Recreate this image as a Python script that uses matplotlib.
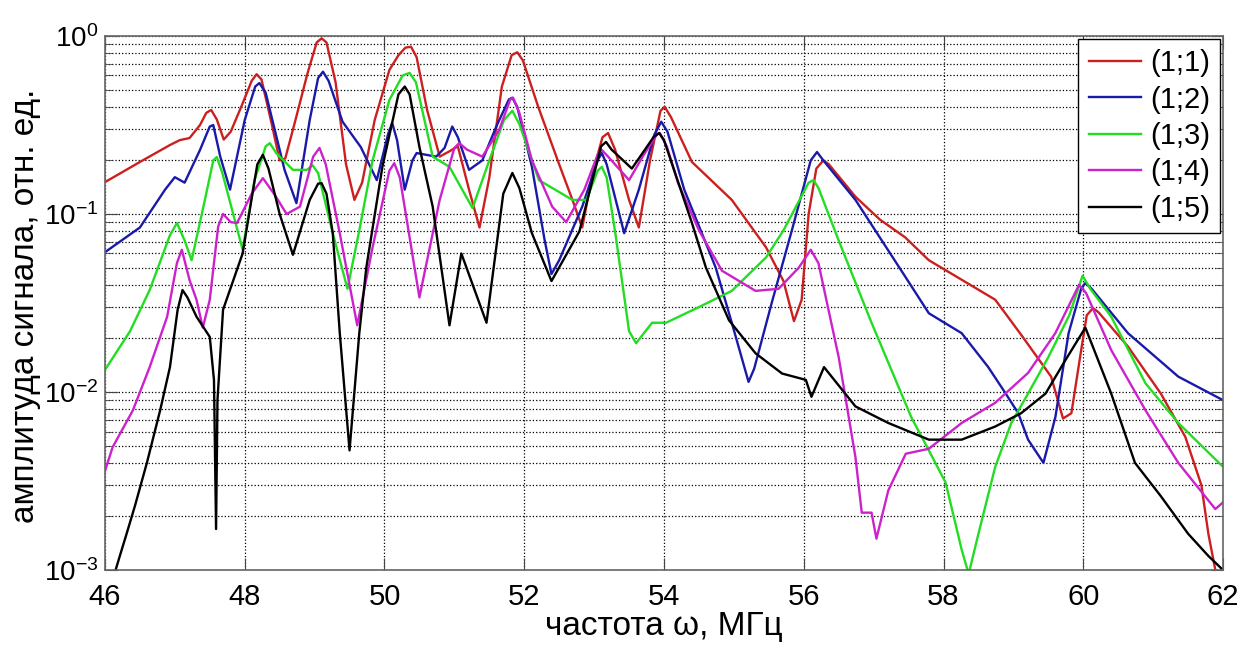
import numpy as np
import matplotlib
matplotlib.use('Agg')
import matplotlib.pyplot as plt
from matplotlib.ticker import LogLocator, LogFormatterMathtext

plt.rcParams['font.family'] = ['Liberation Sans', 'DejaVu Sans']
plt.rcParams['mathtext.fontset'] = 'custom'
plt.rcParams['mathtext.rm'] = 'Liberation Sans'
plt.rcParams['mathtext.it'] = 'Liberation Sans'

f11 = [46.00, 46.50, 46.93, 47.07, 47.21, 47.36, 47.45, 47.52, 47.60, 47.70, 47.80, 47.95, 48.10,
       48.17, 48.24, 48.39, 48.50, 48.58, 48.72, 48.90, 49.03, 49.10, 49.17, 49.30, 49.45, 49.57,
       49.68, 49.86, 50.07, 50.20, 50.30, 50.38, 50.46, 50.61, 50.79, 50.93, 51.05, 51.21, 51.36,
       51.50, 51.68, 51.82, 51.90, 51.98, 52.20, 52.50, 52.69, 52.83, 52.98, 53.12, 53.20, 53.30,
       53.50, 53.64, 53.80, 53.95, 54.01, 54.10, 54.40, 54.97, 55.46, 55.71, 55.86, 55.97, 56.07,
       56.18, 56.28, 56.36, 56.74, 57.09, 57.45, 57.79, 58.74, 59.11, 59.54, 59.71, 59.83, 59.97,
       60.05, 60.14, 60.22, 60.64, 61.11, 61.46, 61.69, 61.79, 61.89, 62.00]
a11 = [0.151, 0.196, 0.244, 0.26, 0.267, 0.316, 0.37, 0.384, 0.34, 0.262, 0.29, 0.40, 0.56,
       0.61, 0.57, 0.316, 0.20, 0.205, 0.33, 0.62, 0.92, 0.97, 0.92, 0.55, 0.19, 0.12,
       0.15, 0.337, 0.644, 0.78, 0.86, 0.87, 0.76, 0.384, 0.21, 0.225, 0.24, 0.137, 0.084,
       0.16, 0.52, 0.78, 0.81, 0.73, 0.40, 0.19, 0.12, 0.084, 0.17, 0.27, 0.285, 0.23,
       0.12, 0.084, 0.20, 0.38, 0.40, 0.35, 0.196, 0.12, 0.065, 0.042, 0.025, 0.033, 0.10,
       0.18, 0.20, 0.19, 0.125, 0.093, 0.074, 0.055, 0.033, 0.021, 0.0122, 0.0071, 0.0076, 0.0172,
       0.027, 0.0296, 0.028, 0.018, 0.0098, 0.0056, 0.003, 0.0016, 0.001, 0.0007]

f12 = [46.00, 46.50, 46.86, 47.00, 47.14, 47.36, 47.50, 47.55, 47.65, 47.79, 48.00, 48.15, 48.21,
       48.30, 48.57, 48.74, 48.93, 49.05, 49.12, 49.20, 49.40, 49.66, 49.89, 50.05, 50.11, 50.18,
       50.29, 50.40, 50.46, 50.74, 50.86, 50.97, 51.05, 51.21, 51.40, 51.60, 51.78, 51.83, 51.90,
       52.11, 52.29, 52.39, 52.50, 52.83, 53.05, 53.11, 53.18, 53.43, 53.64, 53.86, 53.96, 54.05,
       54.29, 54.74, 54.97, 55.21, 55.29, 55.54, 55.83, 56.10, 56.19, 56.28, 56.74, 57.46, 57.79,
       58.26, 58.64, 58.89, 59.07, 59.21, 59.43, 59.60, 59.79, 59.97, 60.03, 60.12, 60.64, 61.36,
       62.00]
a12 = [0.061, 0.084, 0.137, 0.161, 0.15, 0.229, 0.31, 0.316, 0.21, 0.137, 0.337, 0.52, 0.544,
       0.48, 0.177, 0.115, 0.337, 0.58, 0.63, 0.56, 0.33, 0.238, 0.155, 0.28, 0.325, 0.26,
       0.137, 0.20, 0.22, 0.21, 0.235, 0.31, 0.27, 0.177, 0.20, 0.31, 0.44, 0.45, 0.40,
       0.184, 0.072, 0.046, 0.055, 0.11, 0.20, 0.22, 0.19, 0.078, 0.137, 0.278, 0.33, 0.29,
       0.137, 0.05, 0.0245, 0.0114, 0.0135, 0.0315, 0.081, 0.20, 0.223, 0.20, 0.12, 0.044, 0.0277,
       0.0214, 0.0138, 0.0098, 0.0076, 0.0054, 0.004, 0.0072, 0.0214, 0.038, 0.041, 0.038, 0.0214, 0.0122,
       0.009]

f13 = [46.00, 46.36, 46.64, 46.93, 47.03, 47.14, 47.24, 47.43, 47.55, 47.60, 47.68, 47.97, 48.14,
       48.30, 48.36, 48.45, 48.69, 48.89, 48.97, 49.05, 49.26, 49.47, 49.64, 49.83, 50.07, 50.26,
       50.36, 50.45, 50.69, 50.93, 51.26, 51.50, 51.71, 51.83, 51.93, 52.21, 52.69, 52.89, 53.05,
       53.11, 53.18, 53.31, 53.50, 53.60, 53.83, 54.03, 54.50, 54.97, 55.46, 55.71, 56.07, 56.14,
       56.21, 56.50, 56.97, 57.54, 57.79, 58.03, 58.26, 58.36, 58.50, 58.74, 58.97, 59.21, 59.50,
       59.80, 59.99, 60.10, 60.40, 60.89, 61.36, 62.00]
a13 = [0.0133, 0.022, 0.0374, 0.076, 0.089, 0.071, 0.055, 0.12, 0.20, 0.209, 0.17, 0.063, 0.155,
       0.24, 0.25, 0.22, 0.177, 0.177, 0.188, 0.17, 0.078, 0.038, 0.081, 0.20, 0.437, 0.60,
       0.62, 0.55, 0.21, 0.184, 0.108, 0.20, 0.337, 0.38, 0.32, 0.155, 0.12, 0.12, 0.175,
       0.184, 0.16, 0.075, 0.022, 0.0188, 0.0245, 0.0245, 0.030, 0.037, 0.057, 0.081, 0.15, 0.155,
       0.14, 0.071, 0.0245, 0.0072, 0.0047, 0.0031, 0.0013, 0.00095, 0.0016, 0.0038, 0.0067, 0.0098, 0.0157,
       0.027, 0.045, 0.038, 0.0265, 0.0112, 0.0067, 0.0038]

f14 = [46.00, 46.11, 46.40, 46.64, 46.89, 47.03, 47.10, 47.21, 47.31, 47.40, 47.50, 47.62, 47.69,
       47.80, 47.89, 48.10, 48.26, 48.43, 48.60, 48.79, 48.98, 49.07, 49.16, 49.36, 49.61, 49.83,
       50.07, 50.14, 50.22, 50.50, 50.79, 51.00, 51.07, 51.18, 51.40, 51.64, 51.80, 51.84, 51.93,
       52.11, 52.40, 52.60, 52.86, 53.06, 53.11, 53.20, 53.50, 53.71, 53.90, 53.94, 54.04, 54.20,
       54.50, 54.83, 55.31, 55.64, 55.93, 56.10, 56.21, 56.50, 56.74, 56.83, 56.97, 57.04, 57.21,
       57.46, 57.79, 58.26, 58.74, 59.21, 59.60, 59.94, 60.04, 60.40, 60.89, 61.36, 61.89, 62.00]
a14 = [0.0036, 0.0049, 0.0079, 0.0138, 0.0265, 0.053, 0.063, 0.0426, 0.033, 0.023, 0.033, 0.085, 0.10,
       0.09, 0.089, 0.13, 0.159, 0.128, 0.10, 0.11, 0.21, 0.235, 0.19, 0.078, 0.0237, 0.065,
       0.175, 0.193, 0.16, 0.034, 0.12, 0.235, 0.25, 0.23, 0.21, 0.296, 0.44, 0.45, 0.37,
       0.20, 0.11, 0.09, 0.137, 0.22, 0.229, 0.21, 0.155, 0.215, 0.28, 0.285, 0.24, 0.15,
       0.081, 0.048, 0.037, 0.038, 0.05, 0.063, 0.053, 0.0157, 0.0043, 0.0021, 0.0021, 0.0015, 0.0028,
       0.0045, 0.0048, 0.0067, 0.0087, 0.0128, 0.0214, 0.040, 0.036, 0.0172, 0.0079, 0.004, 0.0022, 0.0024]

f15 = [46.07, 46.21, 46.31, 46.43, 46.60, 46.79, 46.93, 47.04, 47.11, 47.18, 47.31, 47.50, 47.56,
       47.59, 47.61, 47.69, 47.97, 48.18, 48.26, 48.34, 48.50, 48.69, 48.93, 49.05, 49.10, 49.17,
       49.26, 49.36, 49.50, 49.64, 49.74, 49.97, 50.20, 50.29, 50.36, 50.50, 50.69, 50.93, 51.10,
       51.46, 51.70, 51.83, 51.93, 52.11, 52.39, 52.79, 53.10, 53.17, 53.25, 53.54, 53.85, 53.93,
       54.00, 54.40, 54.60, 54.93, 55.31, 55.69, 56.03, 56.11, 56.29, 56.74, 57.21, 57.79, 58.26,
       58.74, 59.11, 59.46, 59.74, 60.03, 60.40, 60.74, 61.11, 61.50, 61.79, 62.00]
a15 = [0.00078, 0.00119, 0.0016, 0.0023, 0.004, 0.0079, 0.0138, 0.029, 0.0374, 0.034, 0.0265, 0.0204, 0.0117,
       0.0017, 0.009, 0.029, 0.06, 0.19, 0.215, 0.18, 0.10, 0.059, 0.12, 0.148, 0.149, 0.13,
       0.078, 0.0215, 0.0047, 0.0215, 0.05, 0.184, 0.47, 0.52, 0.47, 0.238, 0.11, 0.0237, 0.06,
       0.0245, 0.13, 0.17, 0.14, 0.078, 0.042, 0.08, 0.24, 0.254, 0.23, 0.18, 0.27, 0.285,
       0.26, 0.089, 0.05, 0.0253, 0.0165, 0.0127, 0.0117, 0.0094, 0.0138, 0.0083, 0.0067, 0.0054, 0.0054,
       0.0064, 0.0076, 0.0098, 0.015, 0.023, 0.0098, 0.004, 0.0026, 0.0016, 0.0012, 0.001]

labels = ['(1;1)', '(1;2)', '(1;3)', '(1;4)', '(1;5)']
colors = ['#cc2020', '#1a1aaa', '#22dd22', '#cc22cc', '#000000']

fig = plt.figure(figsize=(12.54, 6.46), dpi=100)
ax = fig.add_axes([0.0837, 0.1176, 0.8916, 0.8267])

series = [(f11, a11), (f12, a12), (f13, a13), (f14, a14), (f15, a15)]
for (f, a), lab, c in zip(series, labels, colors):
    ax.plot(f, a, color=c, lw=1.7, label=lab)

ax.set_yscale('log')
ax.set_xlim(46, 62)
ax.set_ylim(1e-3, 1e0)
ax.set_xticks(np.arange(46, 63, 2))
ax.yaxis.set_major_locator(LogLocator(base=10, numticks=10))
ax.yaxis.set_minor_locator(LogLocator(base=10, subs=np.arange(2, 10), numticks=10))
ax.yaxis.set_major_formatter(LogFormatterMathtext())

ax.grid(True, which='major', linestyle=':', color='k', lw=0.9)
ax.grid(True, which='minor', axis='y', linestyle=':', color='k', lw=0.9)

ax.tick_params(which='both', direction='in', top=True, right=True, color='#444444')
ax.tick_params(axis='x', which='major', labelsize=21, length=9, pad=9)
ax.tick_params(axis='y', which='major', labelsize=20, length=9, pad=5)
ax.tick_params(which='minor', length=5)
for s in ax.spines.values():
    s.set_color('#666666')
    s.set_linewidth(1.2)

ax.set_xlabel('частота ω, МГц', fontsize=24, labelpad=0)
ax.set_ylabel('амплитуда сигнала, отн. ед.', fontsize=24)
ax.yaxis.set_label_coords(-0.057, 0.495)

leg = ax.legend(loc='upper right', fontsize=21, handlelength=1.8, labelspacing=0.29,
                handletextpad=0.3, borderaxespad=0.1, borderpad=0.35, fancybox=False,
                framealpha=1.0, edgecolor='k')
leg.get_frame().set_linewidth(1.0)

fig.savefig('out.png', dpi=100)
